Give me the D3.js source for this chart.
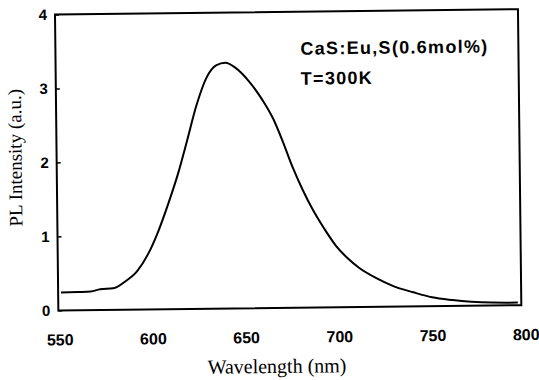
<!DOCTYPE html>
<html>
<head>
<meta charset="utf-8">
<script src="https://cdn.jsdelivr.net/npm/d3@7"></script>
<style>
  html, body { margin: 0; padding: 0; background: #fff; }
  svg { display: block; }
</style>
</head>
<body>
<svg id="chart" width="539" height="380"></svg>
<script>
// ---- data ----
const wavelength = [551, 560, 567, 572, 579, 586, 592, 598, 603, 609, 614.5, 619.5, 624.8, 630.3, 635.8, 640.5, 646, 653, 660, 666, 671, 676, 681.3, 686.6, 692.7, 698.8, 705, 711, 720, 729, 740, 750, 761, 771, 782, 796];
const intensity  = [0.24, 0.245, 0.25, 0.28, 0.29, 0.39, 0.52, 0.75, 1.02, 1.42, 1.83, 2.27, 2.75, 3.12, 3.29, 3.32, 3.25, 3.07, 2.82, 2.55, 2.24, 1.90, 1.59, 1.32, 1.06, 0.83, 0.66, 0.53, 0.39, 0.28, 0.19, 0.12, 0.08, 0.055, 0.04, 0.035];
const xTicks = [550, 600, 650, 700, 750, 800];
const yTicks = [0, 1, 2, 3, 4];
const annotation = ["CaS:Eu,S(0.6mol%)", "T=300K"];
const xTitle = "Wavelength (nm)";
const yTitle = "PL Intensity (a.u.)";

const svg = d3.select("#chart");
const root = svg.append("g").attr("transform", "rotate(-0.65, 270, 190)");

const frame = {left: 57, right: 520, top: 12, bottom: 308};
const x = d3.scaleLinear().domain([550, 800]).range([58, 524]);
const y = d3.scaleLinear().domain([0, 4]).range([308, 12]);

// frame
root.append("rect")
  .attr("x", frame.left).attr("y", frame.top)
  .attr("width", frame.right - frame.left).attr("height", frame.bottom - frame.top)
  .attr("fill", "none").attr("stroke", "#000").attr("stroke-width", 2);

// y axis
const yAxis = root.append("g")
  .attr("transform", `translate(${frame.left},0)`)
  .call(d3.axisLeft(y).tickValues(yTicks).tickFormat(d3.format("d")).tickSizeInner(-4).tickSizeOuter(0).tickPadding(8));
yAxis.select(".domain").remove();
yAxis.selectAll("line").attr("stroke", "#000").attr("stroke-width", 1.5);
yAxis.selectAll("text")
  .attr("font-family", "'Liberation Sans', Arial, sans-serif")
  .attr("font-size", 15).attr("font-weight", "bold").attr("fill", "#000");

// x axis
const xAxis = root.append("g")
  .attr("transform", `translate(0,${frame.bottom})`)
  .call(d3.axisBottom(x).tickValues(xTicks).tickFormat(d3.format("d")).tickSize(0).tickPadding(0));
xAxis.select(".domain").remove();
xAxis.selectAll("text")
  .attr("y", 35).attr("dy", null)
  .attr("font-family", "'Liberation Sans', Arial, sans-serif")
  .attr("font-size", 16).attr("font-weight", "bold").attr("fill", "#000");

// curve
const line = d3.line()
  .x((d, i) => x(wavelength[i]))
  .y((d, i) => y(intensity[i]))
  .curve(d3.curveMonotoneX);
root.append("path")
  .datum(intensity)
  .attr("d", line)
  .attr("fill", "none").attr("stroke", "#000").attr("stroke-width", 2);

// annotation
root.append("text").attr("x", 302).attr("y", 55)
  .attr("font-family", "'Liberation Sans', Arial, sans-serif").attr("font-size", 18)
  .attr("font-weight", "bold").attr("letter-spacing", 1.3)
  .text(annotation[0]);
root.append("text").attr("x", 302).attr("y", 85)
  .attr("font-family", "'Liberation Sans', Arial, sans-serif").attr("font-size", 18)
  .attr("font-weight", "bold").attr("letter-spacing", 1.3)
  .text(annotation[1]);

// titles
root.append("text").attr("x", 275).attr("y", 373).attr("text-anchor", "middle")
  .attr("font-family", "'Liberation Serif', 'Times New Roman', serif").attr("font-size", 20)
  .text(xTitle);
root.append("text")
  .attr("transform", "translate(22,155) rotate(-90)")
  .attr("text-anchor", "middle")
  .attr("font-family", "'Liberation Serif', 'Times New Roman', serif").attr("font-size", 19)
  .text(yTitle);
</script>
</body>
</html>
